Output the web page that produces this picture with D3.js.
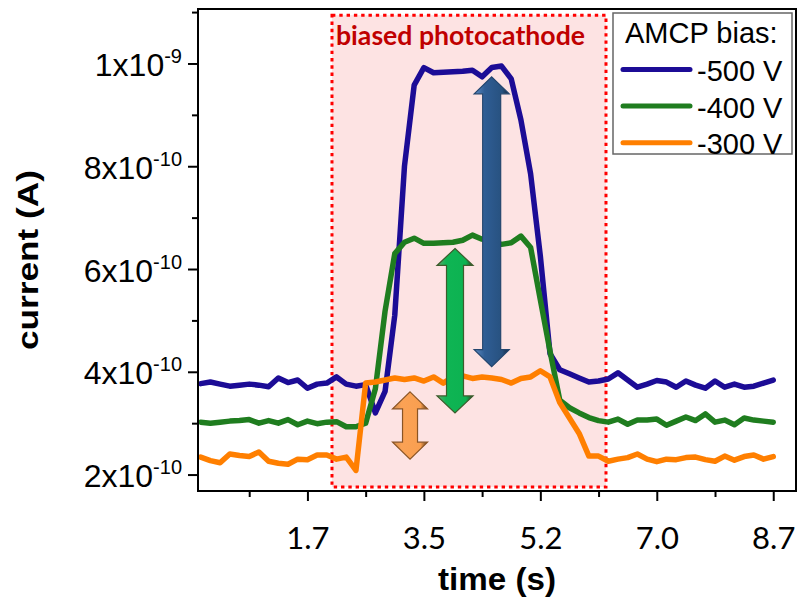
<!DOCTYPE html>
<html><head><meta charset="utf-8">
<script src="https://cdn.jsdelivr.net/npm/d3@7"></script>
<style>body{margin:0;background:#fff}svg{display:block}</style>
</head><body><svg id="chart" width="798" height="597"></svg>
<script>
// ---------- DATA ----------
const times = [0.145,0.29,0.435,0.58,0.725,0.87,1.015,1.16,1.305,1.45,
  1.595,1.74,1.885,2.03,2.175,2.32,2.465,2.61,2.755,2.9,
  3.045,3.19,3.335,3.48,3.625,3.77,3.915,4.06,4.205,4.35,
  4.495,4.64,4.785,4.93,5.075,5.22,5.365,5.51,5.655,5.8,
  5.945,6.09,6.235,6.38,6.525,6.67,6.815,6.96,7.105,7.25,
  7.395,7.54,7.685,7.83,7.975,8.12,8.265,8.41,8.555,8.7];
// current in units of 1e-10 A
const bias500 = [3.77,3.80,3.76,3.72,3.74,3.76,3.74,3.71,3.88,3.79,
  3.84,3.68,3.76,3.78,3.90,3.76,3.72,3.75,3.20,3.62,
  5.10,8.00,9.58,9.92,9.82,9.83,9.84,9.85,9.87,9.74,
  9.92,9.95,9.70,8.90,7.85,6.25,4.35,4.04,3.96,3.88,
  3.80,3.82,3.86,3.98,3.84,3.70,3.76,3.83,3.80,3.70,
  3.82,3.74,3.68,3.82,3.70,3.76,3.70,3.72,3.78,3.84];
const bias400 = [3.02,3.00,3.02,3.04,3.05,3.07,3.00,3.05,3.00,3.07,
  2.97,3.04,2.99,3.02,3.03,2.93,2.93,3.00,3.67,5.18,
  6.30,6.52,6.60,6.50,6.50,6.51,6.52,6.56,6.66,6.58,
  6.53,6.48,6.51,6.64,6.42,5.40,4.40,3.45,3.30,3.20,
  3.11,3.05,3.02,3.08,2.98,3.06,3.06,3.08,2.96,3.04,
  3.12,3.05,3.18,3.02,3.06,2.97,3.10,3.06,3.04,3.02];
const bias300 = [2.34,2.27,2.23,2.40,2.37,2.35,2.44,2.26,2.22,2.20,
  2.30,2.29,2.38,2.38,2.30,2.34,2.08,3.78,3.80,3.84,
  3.88,3.85,3.88,3.82,3.90,3.78,3.90,3.92,3.87,3.90,
  3.88,3.85,3.78,3.87,3.90,4.02,3.90,3.40,3.10,2.80,
  2.36,2.36,2.26,2.30,2.33,2.40,2.30,2.25,2.30,2.29,
  2.33,2.34,2.29,2.26,2.36,2.28,2.35,2.38,2.30,2.35];
const seriesLabels = ["-500 V","-400 V","-300 V"];
const seriesColors = ["#1c0c96","#1f7d1f","#ff7f00"];
const xMajorTicks = [1.74,3.48,5.22,6.96,8.70];
const xTickLabels = ["1.7","3.5","5.2","7.0","8.7"];
const xMinorTicks = [0.87,2.61,4.35,6.09,7.83];
const yMajorTicks = [2,4,6,8,10];
const yTickMantissa = ["2x10","4x10","6x10","8x10","1x10"];
const yTickExponent = ["-10","-10","-10","-10","-9"];
const yMinorTicks = [3,5,7,9,11];
// annotation: biased window (time s, current 1e-10 A)
const windowT = [2.107, 6.201];
const windowV = [1.758, 10.94];
// double arrows: time, top, bottom
const arrowT = [4.493, 3.945, 3.273];
const arrowTop = [9.74, 6.40, 3.61];
const arrowBottom = [4.10, 3.20, 2.30];

// ---------- CHART ----------
const svg = d3.select("#chart");
const L = 198, R = 796, T = 9, B = 491;
const x = d3.scaleLinear().domain([0.105, 9.04]).range([L, R]);
const y = d3.scaleLinear().domain([1.68, 11.06]).range([B, T]);

svg.append("rect").attr("width",798).attr("height",597).attr("fill","#fff");

const defs = svg.append("defs");
function grad(id, stops){
  const g = defs.append("linearGradient").attr("id",id).attr("x1","0").attr("x2","1").attr("y1","0").attr("y2","0");
  stops.forEach(s=>g.append("stop").attr("offset",s[0]).attr("stop-color",s[1]));
}
grad("gBlue",[["0","#5d8cc4"],["0.3","#2f5d94"],["0.8","#27517f"],["1","#16263a"]]);
grad("gGreen",[["0","#6aa36e"],["0.25","#0fb554"],["0.8","#0db251"],["1","#2c3f26"]]);
grad("gOrange",[["0","#c98a4a"],["0.25","#fba255"],["0.8","#f99f50"],["1","#5a3a1a"]]);

// highlight window
svg.append("rect")
  .attr("x", x(windowT[0])).attr("y", y(windowV[1]))
  .attr("width", x(windowT[1]) - x(windowT[0]))
  .attr("height", y(windowV[0]) - y(windowV[1]))
  .attr("fill","#fde3e3");
svg.append("rect")
  .attr("x", x(windowT[0])).attr("y", y(windowV[1]))
  .attr("width", x(windowT[1]) - x(windowT[0]))
  .attr("height", y(windowV[0]) - y(windowV[1]))
  .attr("fill","none").attr("stroke","#ff0000").attr("stroke-width",3)
  .attr("stroke-dasharray","3.4 3.9");

svg.append("text")
  .attr("x", x(windowT[0]) + 4).attr("y", 45)
  .attr("font-family","Lato, 'Open Sans', sans-serif").attr("font-weight","bold")
  .attr("font-size",26).attr("fill","#c00000")
  .attr("textLength",249).attr("lengthAdjust","spacingAndGlyphs")
  .text("biased photocathode");

// lines
const series = [bias500, bias400, bias300];
const line = d3.line().x((d,i)=>x(times[i])).y(d=>y(d));
series.forEach((s,k)=>{
  svg.append("path").datum(s).attr("d",line)
    .attr("fill","none").attr("stroke",seriesColors[k]).attr("stroke-width",5.5)
    .attr("stroke-linejoin","round").attr("stroke-linecap","round");
});

// arrows
const arrowFills = ["url(#gBlue)","url(#gGreen)","url(#gOrange)"];
const arrowStrokes = ["#24466e","#3d5c2c","#8a5424"];
const shaftHalf = [9, 8.5, 7.5];
const headHalf = [17.5, 18, 17.5];
const headH = 17;
arrowT.forEach((t,i)=>{
  const cx = x(t), y1 = y(arrowTop[i]), y2 = y(arrowBottom[i]);
  const sw = shaftHalf[i], hw = headHalf[i];
  const p = [[cx,y1],[cx+hw,y1+headH],[cx+sw,y1+headH],[cx+sw,y2-headH],[cx+hw,y2-headH],
             [cx,y2],[cx-hw,y2-headH],[cx-sw,y2-headH],[cx-sw,y1+headH],[cx-hw,y1+headH]];
  svg.append("path").attr("d","M"+p.map(q=>q.join(",")).join("L")+"Z")
    .attr("fill",arrowFills[i]).attr("stroke",arrowStrokes[i]).attr("stroke-width",1.2)
    .attr("stroke-linejoin","miter");
});

// axes
const fontAxis = "'Liberation Sans', Arial, sans-serif";
const xAxis = svg.append("g").attr("transform",`translate(0,${B})`)
  .call(d3.axisBottom(x).tickValues(xMajorTicks).tickSize(10).tickSizeOuter(0)
    .tickFormat((d,i)=>xTickLabels[i]));
xAxis.select(".domain").remove();
xAxis.selectAll(".tick line").attr("stroke","#000").attr("stroke-width",2);
xAxis.selectAll(".tick text").attr("y",58).attr("dy",null)
  .attr("font-family","Lato, 'Open Sans', sans-serif").attr("font-size",31).attr("fill","#000");
const xMinor = svg.append("g").attr("transform",`translate(0,${B})`)
  .call(d3.axisBottom(x).tickValues(xMinorTicks).tickSize(6).tickSizeOuter(0).tickFormat(""));
xMinor.select(".domain").remove();
xMinor.selectAll(".tick line").attr("stroke","#000").attr("stroke-width",2);

const yAxis = svg.append("g").attr("transform",`translate(${L},0)`)
  .call(d3.axisLeft(y).tickValues(yMajorTicks).tickSize(10).tickSizeOuter(0).tickFormat(""));
yAxis.select(".domain").remove();
yAxis.selectAll(".tick line").attr("stroke","#000").attr("stroke-width",2);
yAxis.selectAll(".tick").each(function(d,i){
  const t = d3.select(this).append("text").attr("x",-16).attr("y",12)
    .attr("text-anchor","end").attr("fill","#000")
    .attr("font-family",fontAxis).attr("font-size",32);
  t.append("tspan").text(yTickMantissa[i]);
  t.append("tspan").attr("dy",-13).attr("font-size",20).text(yTickExponent[i]);
});
const yMinor = svg.append("g").attr("transform",`translate(${L},0)`)
  .call(d3.axisLeft(y).tickValues(yMinorTicks).tickSize(6).tickSizeOuter(0).tickFormat(""));
yMinor.select(".domain").remove();
yMinor.selectAll(".tick line").attr("stroke","#000").attr("stroke-width",2);

// frame
svg.append("rect").attr("x",L).attr("y",T).attr("width",R-L).attr("height",B-T)
  .attr("fill","none").attr("stroke","#000").attr("stroke-width",2);

// axis titles
svg.append("text").attr("x",(L+R)/2).attr("y",590).attr("text-anchor","middle")
  .attr("font-family",fontAxis).attr("font-weight","bold").attr("font-size",31)
  .attr("textLength",118).attr("lengthAdjust","spacingAndGlyphs").text("time (s)");
svg.append("text").attr("transform","translate(38,260) rotate(-90)").attr("text-anchor","middle")
  .attr("font-family",fontAxis).attr("font-weight","bold").attr("font-size",30)
  .attr("textLength",180).attr("lengthAdjust","spacingAndGlyphs").text("current (A)");

// legend
const lg = svg.append("g");
lg.append("rect").attr("x",613).attr("y",13).attr("width",179).attr("height",141)
  .attr("fill","#fff").attr("stroke","#666").attr("stroke-width",1.5);
lg.append("text").attr("x",625).attr("y",43).attr("font-family",fontAxis).attr("font-size",29)
  .attr("fill","#000").text("AMCP bias:");
seriesLabels.forEach((s,i)=>{
  const yy = 69.5 + i*36.6;
  lg.append("line").attr("x1",623).attr("x2",690).attr("y1",yy).attr("y2",yy)
    .attr("stroke",seriesColors[i]).attr("stroke-width",5).attr("stroke-linecap","round");
  lg.append("text").attr("x",697).attr("y",yy+11.5).attr("font-family",fontAxis).attr("font-size",29)
    .attr("fill","#000").text(s);
});
</script></body></html>
